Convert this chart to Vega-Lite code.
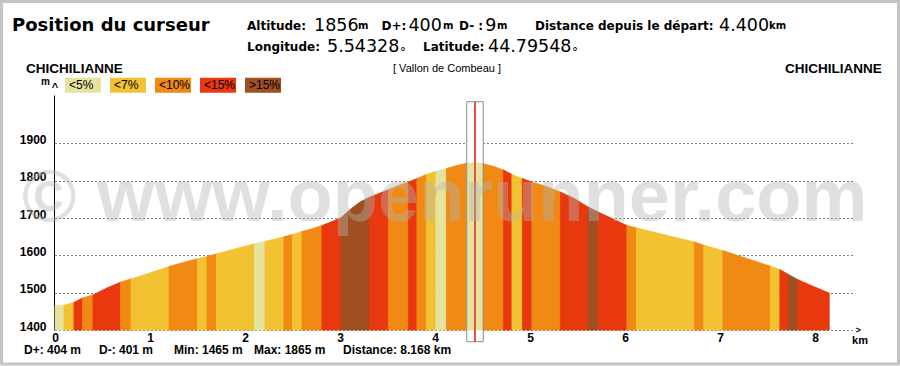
{
  "$schema": "https://vega.github.io/schema/vega-lite/v6.json",
  "width": 800,
  "height": 235,
  "autosize": {"type": "none"},
  "padding": {"left": 55, "top": 95, "right": 45, "bottom": 36},
  "background": "white",
  "config": {"view": {"stroke": null}, "font": "Liberation Sans"},
  "layer": [
    {
      "data": {"values": [{}]},
      "mark": {"type": "rect", "fill": "white"},
      "encoding": {"x": {"datum": 4.334}, "x2": {"datum": 4.508}, "y": {"datum": 2012}, "y2": {"datum": 1368.6}}
    },
    {
      "data": {"values": [
        {"s":1,"c":"<5%","km":0,"e":1466},{"s":1,"c":"<5%","km":0.095,"e":1466},
        {"s":2,"c":"<7%","km":0.095,"e":1466},{"s":2,"c":"<7%","km":0.2,"e":1474},
        {"s":3,"c":"<15%","km":0.2,"e":1474},{"s":3,"c":"<15%","km":0.29,"e":1486},
        {"s":4,"c":"<10%","km":0.29,"e":1486},{"s":4,"c":"<10%","km":0.4,"e":1494},
        {"s":5,"c":"<15%","km":0.4,"e":1494},{"s":5,"c":"<15%","km":0.55,"e":1513},{"s":5,"c":"<15%","km":0.69,"e":1528},
        {"s":6,"c":"<10%","km":0.69,"e":1528},{"s":6,"c":"<10%","km":0.8,"e":1537},
        {"s":7,"c":"<7%","km":0.8,"e":1537},{"s":7,"c":"<7%","km":1.0,"e":1553},{"s":7,"c":"<7%","km":1.2,"e":1570},
        {"s":8,"c":"<10%","km":1.2,"e":1570},{"s":8,"c":"<10%","km":1.35,"e":1581},{"s":8,"c":"<10%","km":1.5,"e":1591},
        {"s":9,"c":"<7%","km":1.5,"e":1591},{"s":9,"c":"<7%","km":1.6,"e":1597},
        {"s":10,"c":"<10%","km":1.6,"e":1597},{"s":10,"c":"<10%","km":1.7,"e":1604},
        {"s":11,"c":"<7%","km":1.7,"e":1604},{"s":11,"c":"<7%","km":1.9,"e":1618},{"s":11,"c":"<7%","km":2.1,"e":1631},
        {"s":12,"c":"<5%","km":2.1,"e":1631},{"s":12,"c":"<5%","km":2.21,"e":1637},
        {"s":13,"c":"<7%","km":2.21,"e":1637},{"s":13,"c":"<7%","km":2.41,"e":1650},
        {"s":14,"c":"<10%","km":2.41,"e":1650},{"s":14,"c":"<10%","km":2.5,"e":1656},
        {"s":15,"c":"<7%","km":2.5,"e":1656},{"s":15,"c":"<7%","km":2.6,"e":1664},
        {"s":16,"c":"<10%","km":2.6,"e":1664},{"s":16,"c":"<10%","km":2.7,"e":1671},{"s":16,"c":"<10%","km":2.81,"e":1680},
        {"s":17,"c":"<15%","km":2.81,"e":1680},{"s":17,"c":"<15%","km":2.91,"e":1690},{"s":17,"c":"<15%","km":3.01,"e":1701},
        {"s":18,"c":">15%","km":3.01,"e":1701},{"s":18,"c":">15%","km":3.12,"e":1726},{"s":18,"c":">15%","km":3.21,"e":1743},{"s":18,"c":">15%","km":3.31,"e":1756},
        {"s":19,"c":"<15%","km":3.31,"e":1756},{"s":19,"c":"<15%","km":3.41,"e":1766},{"s":19,"c":"<15%","km":3.51,"e":1776},
        {"s":20,"c":"<10%","km":3.51,"e":1776},{"s":20,"c":"<10%","km":3.61,"e":1787},{"s":20,"c":"<10%","km":3.72,"e":1797},
        {"s":21,"c":"<15%","km":3.72,"e":1797},{"s":21,"c":"<15%","km":3.81,"e":1806},
        {"s":22,"c":"<10%","km":3.81,"e":1806},{"s":22,"c":"<10%","km":3.91,"e":1817},
        {"s":23,"c":"<7%","km":3.91,"e":1817},{"s":23,"c":"<7%","km":4.01,"e":1825},
        {"s":24,"c":"<5%","km":4.01,"e":1825},{"s":24,"c":"<5%","km":4.12,"e":1833},
        {"s":25,"c":"<10%","km":4.12,"e":1833},{"s":25,"c":"<10%","km":4.23,"e":1841},{"s":25,"c":"<10%","km":4.334,"e":1847},
        {"s":26,"c":"<5%","km":4.334,"e":1847},{"s":26,"c":"<5%","km":4.42,"e":1849},{"s":26,"c":"<5%","km":4.508,"e":1846},
        {"s":27,"c":"<10%","km":4.508,"e":1846},{"s":27,"c":"<10%","km":4.62,"e":1838},{"s":27,"c":"<10%","km":4.72,"e":1829},
        {"s":28,"c":"<15%","km":4.72,"e":1829},{"s":28,"c":"<15%","km":4.81,"e":1817},
        {"s":29,"c":"<7%","km":4.81,"e":1817},{"s":29,"c":"<7%","km":4.92,"e":1806},
        {"s":30,"c":"<15%","km":4.92,"e":1806},{"s":30,"c":"<15%","km":5.02,"e":1797},
        {"s":31,"c":"<10%","km":5.02,"e":1797},{"s":31,"c":"<10%","km":5.17,"e":1785},{"s":31,"c":"<10%","km":5.32,"e":1770},
        {"s":32,"c":"<15%","km":5.32,"e":1770},{"s":32,"c":"<15%","km":5.47,"e":1752},{"s":32,"c":"<15%","km":5.61,"e":1730},
        {"s":33,"c":">15%","km":5.61,"e":1730},{"s":33,"c":">15%","km":5.72,"e":1716},
        {"s":34,"c":"<15%","km":5.72,"e":1716},{"s":34,"c":"<15%","km":5.87,"e":1698},{"s":34,"c":"<15%","km":6.02,"e":1680},
        {"s":35,"c":"<10%","km":6.02,"e":1680},{"s":35,"c":"<10%","km":6.12,"e":1674},
        {"s":36,"c":"<7%","km":6.12,"e":1674},{"s":36,"c":"<7%","km":6.42,"e":1655},{"s":36,"c":"<7%","km":6.73,"e":1636},
        {"s":37,"c":"<10%","km":6.73,"e":1636},{"s":37,"c":"<10%","km":6.83,"e":1627},
        {"s":38,"c":"<7%","km":6.83,"e":1627},{"s":38,"c":"<7%","km":7.03,"e":1613},
        {"s":39,"c":"<10%","km":7.03,"e":1613},{"s":39,"c":"<10%","km":7.28,"e":1592},{"s":39,"c":"<10%","km":7.53,"e":1571},
        {"s":40,"c":"<7%","km":7.53,"e":1571},{"s":40,"c":"<7%","km":7.63,"e":1562},
        {"s":41,"c":"<15%","km":7.63,"e":1562},{"s":41,"c":"<15%","km":7.72,"e":1549},
        {"s":42,"c":">15%","km":7.72,"e":1549},{"s":42,"c":">15%","km":7.82,"e":1535},
        {"s":43,"c":"<15%","km":7.82,"e":1535},{"s":43,"c":"<15%","km":7.98,"e":1517},{"s":43,"c":"<15%","km":8.15,"e":1499}
      ]},
      "mark": {"type": "area", "interpolate": "linear", "opacity": 1, "strokeWidth": 0.8},
      "encoding": {
        "x": {"field": "km", "type": "quantitative", "scale": {"domain": [0, 8.421], "nice": false, "zero": false},
          "axis": {"values": [0,1,2,3,4,5,6,7,8], "format": "d", "domain": false, "ticks": false, "grid": false, "title": null,
            "labelFont": "Liberation Sans", "labelFontWeight": "bold", "labelFontSize": 12, "labelColor": "black",
            "labelPadding": 2, "labelBaseline": "top", "labelFlush": false, "labelAngle": 0}},
        "y": {"field": "e", "type": "quantitative", "stack": null, "scale": {"domain": [1400, 2030], "nice": false, "zero": false},
          "axis": {"values": [1400,1500,1600,1700,1800,1900], "format": "d", "domain": true, "domainColor": "black", "domainWidth": 1,
            "ticks": false, "grid": true, "gridColor": "black", "gridDash": [1,3], "gridWidth": 1, "gridOpacity": 1,
            "title": null, "labelFont": "Liberation Sans", "labelFontWeight": "bold", "labelFontSize": 12, "labelColor": "black",
            "labelPadding": 8, "labelBaseline": "alphabetic", "labelFlush": false, "offset": 1}},
        "y2": {"datum": 1400},
        "detail": {"field": "s"},
        "fill": {"field": "c", "type": "nominal",
          "scale": {"domain": ["<5%","<7%","<10%","<15%",">15%"], "range": ["#e5e39e","#f3c232","#f08a14","#e8390e","#a04f20"]},
          "legend": {"orient": "none", "legendX": 10, "legendY": -28, "direction": "horizontal", "title": null, "padding": 0,
            "symbolType": "M-1,-0.4167H1V0.4167H-1Z", "symbolSize": 1296, "symbolStrokeWidth": 0, "symbolOpacity": 1,
            "labelOffset": -32, "labelFont": "Liberation Sans", "labelFontSize": 12, "labelColor": "black",
            "columnPadding": 9, "labelLimit": 0}},
        "stroke": {"field": "c", "type": "nominal",
          "scale": {"domain": ["<5%","<7%","<10%","<15%",">15%"], "range": ["#e5e39e","#f3c232","#f08a14","#e8390e","#a04f20"]},
          "legend": null}
      }
    },
    {
      "data": {"values": [{}]},
      "mark": {"type": "rect", "fill": null, "stroke": "#8c8c8c", "strokeWidth": 1},
      "encoding": {"x": {"datum": 4.334}, "x2": {"datum": 4.508}, "y": {"datum": 2012}, "y2": {"datum": 1368.6}}
    },
    {
      "data": {"values": [{}]},
      "mark": {"type": "rule", "color": "#e2523f", "strokeWidth": 2},
      "encoding": {"x": {"datum": 4.421}, "y": {"datum": 2012}, "y2": {"datum": 1368.6}}
    },
    {
      "data": {"values": [{}]},
      "mark": {"type": "text", "text": "© www.openrunner.com", "font": "Liberation Sans", "fontWeight": "bold", "fontSize": 74, "align": "left", "baseline": "alphabetic", "color": "#b4b4b4", "opacity": 0.4},
      "encoding": {"x": {"datum": -0.3474}, "y": {"datum": 1692.2}}
    },
    {
      "data": {"values": [{}]},
      "mark": {"type": "text", "text": "Position du curseur", "font": "DejaVu Sans", "fontWeight": "bold", "fontSize": 18, "align": "left", "baseline": "alphabetic", "color": "black"},
      "encoding": {"x": {"datum": -0.45263}, "y": {"datum": 2202.9}}
    },
    {"data": {"values": [{}]}, "mark": {"type": "text", "text": "Altitude:", "font": "DejaVu Sans", "fontWeight": "bold", "fontSize": 12, "align": "left", "color": "black"}, "encoding": {"x": {"datum": 2.02105}, "y": {"datum": 2214.98}}},
    {"data": {"values": [{}]}, "mark": {"type": "text", "text": "1856", "font": "DejaVu Sans", "fontSize": 17.5, "align": "left", "color": "black"}, "encoding": {"x": {"datum": 2.72632}, "y": {"datum": 2214.98}}},
    {"data": {"values": [{}]}, "mark": {"type": "text", "text": "m", "font": "DejaVu Sans", "fontWeight": "bold", "fontSize": 10, "align": "left", "color": "black"}, "encoding": {"x": {"datum": 3.18947}, "y": {"datum": 2214.98}}},
    {"data": {"values": [{}]}, "mark": {"type": "text", "text": "D+:", "font": "DejaVu Sans", "fontWeight": "bold", "fontSize": 12, "align": "left", "color": "black"}, "encoding": {"x": {"datum": 3.43684}, "y": {"datum": 2214.98}}},
    {"data": {"values": [{}]}, "mark": {"type": "text", "text": "400", "font": "DejaVu Sans", "fontSize": 17.5, "align": "left", "color": "black"}, "encoding": {"x": {"datum": 3.72}, "y": {"datum": 2214.98}}},
    {"data": {"values": [{}]}, "mark": {"type": "text", "text": "m", "font": "DejaVu Sans", "fontWeight": "bold", "fontSize": 10, "align": "left", "color": "black"}, "encoding": {"x": {"datum": 4.08421}, "y": {"datum": 2214.98}}},
    {"data": {"values": [{}]}, "mark": {"type": "text", "text": "D- :", "font": "DejaVu Sans", "fontWeight": "bold", "fontSize": 12, "align": "left", "color": "black"}, "encoding": {"x": {"datum": 4.25263}, "y": {"datum": 2214.98}}},
    {"data": {"values": [{}]}, "mark": {"type": "text", "text": "9", "font": "DejaVu Sans", "fontSize": 17.5, "align": "left", "color": "black"}, "encoding": {"x": {"datum": 4.53}, "y": {"datum": 2214.98}}},
    {"data": {"values": [{}]}, "mark": {"type": "text", "text": "m", "font": "DejaVu Sans", "fontWeight": "bold", "fontSize": 10, "align": "left", "color": "black"}, "encoding": {"x": {"datum": 4.65263}, "y": {"datum": 2214.98}}},
    {"data": {"values": [{}]}, "mark": {"type": "text", "text": "Distance depuis le départ:", "font": "DejaVu Sans", "fontWeight": "bold", "fontSize": 12, "align": "left", "color": "black"}, "encoding": {"x": {"datum": 5.05263}, "y": {"datum": 2214.98}}},
    {"data": {"values": [{}]}, "mark": {"type": "text", "text": "4.400", "font": "DejaVu Sans", "fontSize": 17.5, "align": "left", "color": "black"}, "encoding": {"x": {"datum": 6.9895}, "y": {"datum": 2214.98}}},
    {"data": {"values": [{}]}, "mark": {"type": "text", "text": "km", "font": "DejaVu Sans", "fontWeight": "bold", "fontSize": 10, "align": "left", "color": "black"}, "encoding": {"x": {"datum": 7.5158}, "y": {"datum": 2214.98}}},
    {"data": {"values": [{}]}, "mark": {"type": "text", "text": "Longitude:", "font": "DejaVu Sans", "fontWeight": "bold", "fontSize": 12, "align": "left", "color": "black"}, "encoding": {"x": {"datum": 2.02105}, "y": {"datum": 2158.68}}},
    {"data": {"values": [{}]}, "mark": {"type": "text", "text": "5.54328", "font": "DejaVu Sans", "fontSize": 17.5, "align": "left", "color": "black"}, "encoding": {"x": {"datum": 2.86316}, "y": {"datum": 2158.68}}},
    {"data": {"values": [{}]}, "mark": {"type": "text", "text": "°", "font": "DejaVu Sans", "fontSize": 12, "align": "left", "color": "black"}, "encoding": {"x": {"datum": 3.6316}, "y": {"datum": 2145.3}}},
    {"data": {"values": [{}]}, "mark": {"type": "text", "text": "Latitude:", "font": "DejaVu Sans", "fontWeight": "bold", "fontSize": 12, "align": "left", "color": "black"}, "encoding": {"x": {"datum": 3.87368}, "y": {"datum": 2158.68}}},
    {"data": {"values": [{}]}, "mark": {"type": "text", "text": "44.79548", "font": "DejaVu Sans", "fontSize": 17.5, "align": "left", "color": "black"}, "encoding": {"x": {"datum": 4.55789}, "y": {"datum": 2158.68}}},
    {"data": {"values": [{}]}, "mark": {"type": "text", "text": "°", "font": "DejaVu Sans", "fontSize": 12, "align": "left", "color": "black"}, "encoding": {"x": {"datum": 5.4421}, "y": {"datum": 2145.3}}},
    {"data": {"values": [{}]}, "mark": {"type": "text", "text": "CHICHILIANNE", "font": "Liberation Sans", "fontWeight": "bold", "fontSize": 13.5, "align": "left", "color": "black"}, "encoding": {"x": {"datum": -0.30526}, "y": {"datum": 2099.7}}},
    {"data": {"values": [{}]}, "mark": {"type": "text", "text": "CHICHILIANNE", "font": "Liberation Sans", "fontWeight": "bold", "fontSize": 13.5, "align": "right", "color": "black"}, "encoding": {"x": {"datum": 8.70211}, "y": {"datum": 2099.7}}},
    {"data": {"values": [{}]}, "mark": {"type": "text", "text": "[ Vallon de Combeau ]", "font": "Liberation Sans", "fontSize": 11, "align": "left", "color": "black"}, "encoding": {"x": {"datum": 3.55789}, "y": {"datum": 2099.7}}},
    {"data": {"values": [{}]}, "mark": {"type": "text", "text": "m", "font": "Liberation Sans", "fontWeight": "bold", "fontSize": 10, "align": "left", "color": "black"}, "encoding": {"x": {"datum": -0.14737}, "y": {"datum": 2064.9}}},
    {"data": {"values": [{}]}, "mark": {"type": "text", "text": "^", "font": "Liberation Sans", "fontWeight": "bold", "fontSize": 11, "align": "center", "color": "black"}, "encoding": {"x": {"datum": 0}, "y": {"datum": 2050.1}}},
    {"data": {"values": [{}]}, "mark": {"type": "text", "text": ">", "font": "Liberation Sans", "fontWeight": "bold", "fontSize": 9, "align": "center", "baseline": "middle", "color": "black"}, "encoding": {"x": {"datum": 8.4526}, "y": {"datum": 1400}}},
    {"data": {"values": [{}]}, "mark": {"type": "text", "text": "km", "font": "Liberation Sans", "fontWeight": "bold", "fontSize": 11, "align": "left", "color": "black"}, "encoding": {"x": {"datum": 8.3895}, "y": {"datum": 1370.5}}},
    {"data": {"values": [{}]}, "mark": {"type": "text", "text": "D+: 404 m", "font": "Liberation Sans", "fontWeight": "bold", "fontSize": 12, "align": "left", "color": "black"}, "encoding": {"x": {"datum": -0.32632}, "y": {"datum": 1346.4}}},
    {"data": {"values": [{}]}, "mark": {"type": "text", "text": "D-: 401 m", "font": "Liberation Sans", "fontWeight": "bold", "fontSize": 12, "align": "left", "color": "black"}, "encoding": {"x": {"datum": 0.46316}, "y": {"datum": 1346.4}}},
    {"data": {"values": [{}]}, "mark": {"type": "text", "text": "Min: 1465 m", "font": "Liberation Sans", "fontWeight": "bold", "fontSize": 12, "align": "left", "color": "black"}, "encoding": {"x": {"datum": 1.25263}, "y": {"datum": 1346.4}}},
    {"data": {"values": [{}]}, "mark": {"type": "text", "text": "Max: 1865 m", "font": "Liberation Sans", "fontWeight": "bold", "fontSize": 12, "align": "left", "color": "black"}, "encoding": {"x": {"datum": 2.09474}, "y": {"datum": 1346.4}}},
    {"data": {"values": [{}]}, "mark": {"type": "text", "text": "Distance: 8.168 km", "font": "Liberation Sans", "fontWeight": "bold", "fontSize": 12, "align": "left", "color": "black"}, "encoding": {"x": {"datum": 3.03158}, "y": {"datum": 1346.4}}},
    {
      "data": {"values": [{}]},
      "mark": {"type": "rect", "fill": null, "stroke": "#c4c4c4", "strokeWidth": 3},
      "encoding": {"x": {"datum": -0.56316}, "x2": {"datum": 8.87895}, "y": {"datum": 2280.66}, "y2": {"datum": 1308.85}}
    }
  ]
}
